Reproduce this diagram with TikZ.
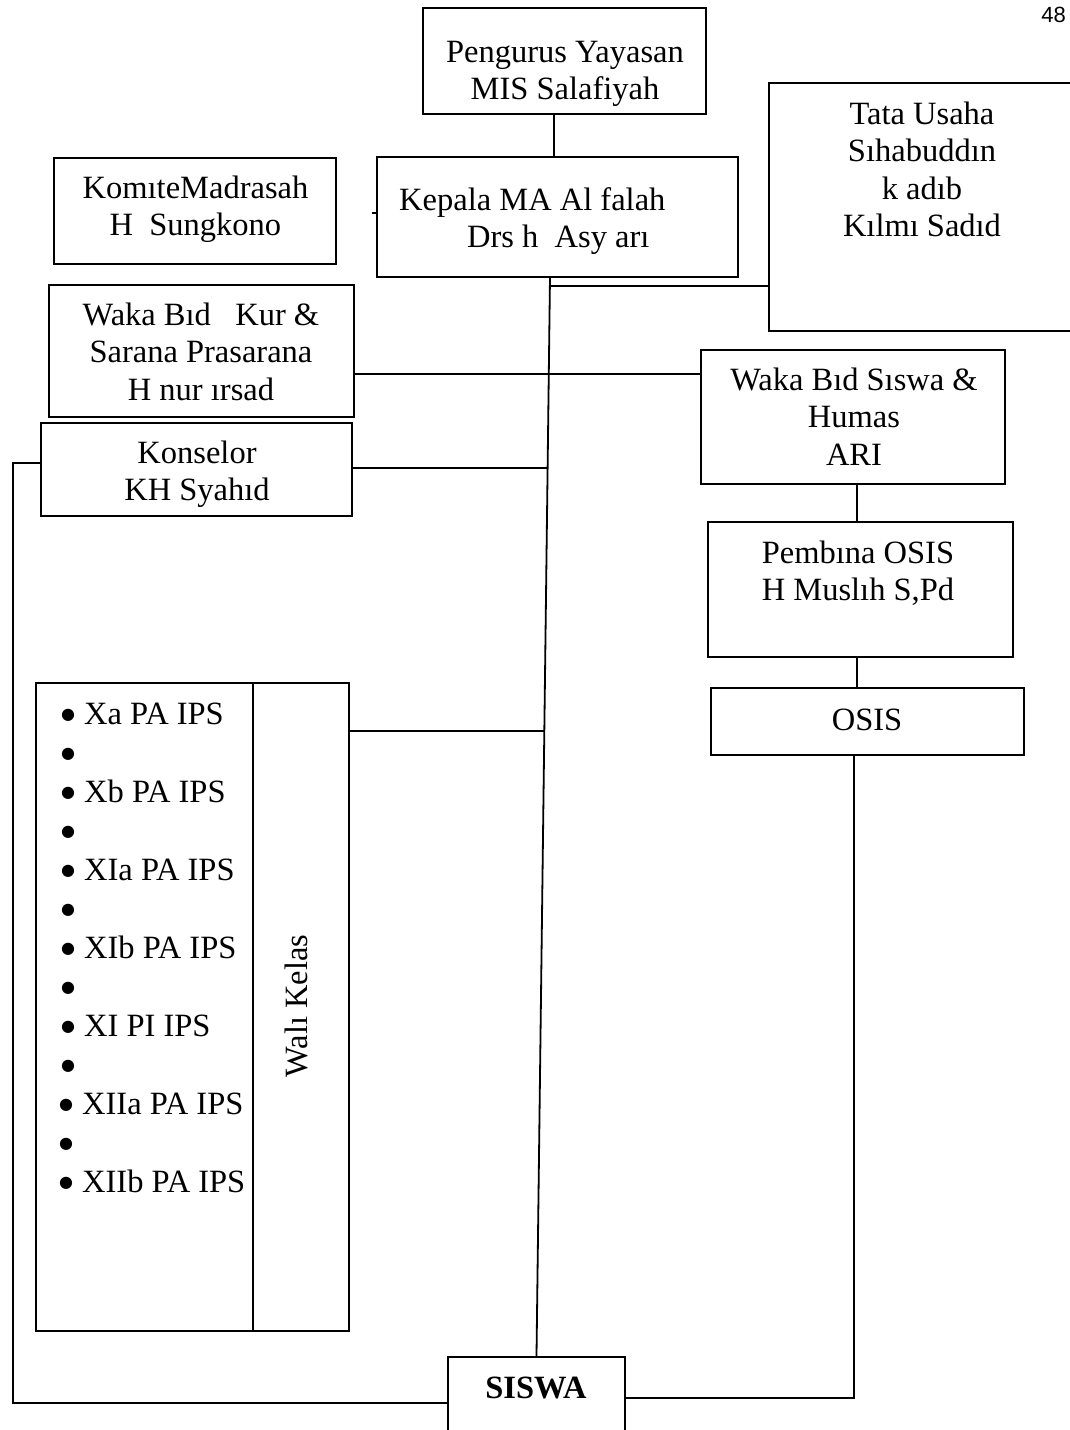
\documentclass[tikz,border=0pt]{standalone}
\usepackage{fontspec}
\setmainfont{Liberation Serif}
\newfontfamily\pagenumfont{Liberation Sans}
\newfontfamily\dotfont{DejaVu Sans}
\begin{document}
\begin{tikzpicture}[x=1pt,y=-1pt,
  box/.style={draw=black, line width=2.2pt, rectangle, inner sep=0pt},
  txt/.style={inner sep=0pt, align=center, anchor=north, font=\fontsize{32.5}{37.5}\selectfont},
  lft/.style={inner sep=0pt, align=left, anchor=north west, font=\fontsize{32.5}{37.5}\selectfont},
  itm/.style={inner sep=0pt, anchor=base west, font=\fontsize{32.5}{37.5}\selectfont},
  conn/.style={draw=black, line width=1.8pt}
]
\useasboundingbox (0,0) rectangle (1070,1430);
\clip (0,0) rectangle (1070,1430);

% page number
\node[inner sep=0pt, anchor=base east, font=\pagenumfont\fontsize{22}{24}\selectfont] (pg) at (1066,22) {48};

% boxes
\node[box, minimum width=283pt, minimum height=106pt] (peng) at (564.5,61) {};
\node[box, minimum width=282pt, minimum height=106pt] (komite) at (195,211) {};
\node[box, minimum width=361pt, minimum height=120pt] (kepala) at (557.5,217) {};
\node[box, minimum width=311pt, minimum height=248pt] (tata) at (924.5,207) {};
\node[box, minimum width=305pt, minimum height=132pt] (wkur) at (201.5,351) {};
\node[box, minimum width=311pt, minimum height=93pt] (kons) at (196.5,469.5) {};
\node[box, minimum width=304pt, minimum height=134pt] (wsis) at (853,417) {};
\node[box, minimum width=305pt, minimum height=135pt] (pemb) at (860.5,589.5) {};
\node[box, minimum width=313pt, minimum height=67pt] (osis) at (867.5,721.5) {};
\node[box, minimum width=313pt, minimum height=648pt] (wali) at (192.5,1007) {};
\node[box, minimum width=177pt, minimum height=78pt] (siswa) at (536.5,1396) {};

% texts
\def\sk{26.25}
\node[txt] (tpeng) at (565,62-\sk) {\strut Pengurus Yayasan\\\strut MIS Salafiyah};
\node[txt] (tkom) at (195.5,198-\sk) {\strut Kom\i teMadrasah\\\strut H\ \ Sungkono};
\node[lft] (tkep) at (399,210-\sk) {\strut Kepala MA Al falah\\\strut\hspace*{68pt}Drs h\ \ Asy ar\i};
\node[txt] (ttata) at (922,124-\sk) {\strut Tata Usaha\\\strut S\i habudd\i n\\\strut k ad\i b\\\strut K\i lm\i\ Sad\i d};
\node[txt] (twkur) at (201,325-\sk) {\strut Waka B\i d\ \ \ Kur \&\\\strut Sarana Prasarana\\\strut H nur \i rsad};
\node[txt] (tkons) at (197,463-\sk) {\strut Konselor\\\strut KH Syah\i d};
\node[txt] (twsis) at (854,390-\sk) {\strut Waka B\i d S\i swa \&\\\strut Humas\\\strut ARI};
\node[txt] (tpemb) at (858,563-\sk) {\strut Pemb\i na OSIS\\\strut H Musl\i h S,Pd};
\node[txt] (tosis) at (867,730-\sk) {\strut OSIS};
\node[txt] (tsis) at (536,1398-\sk) {\strut\bfseries SISWA};

% Wali Kelas contents
\coordinate (divT) at (253,683);
\coordinate (divB) at (253,1331);
\draw[conn, line width=2pt] (divT) -- (divB);
\node[inner sep=0pt, rotate=90, font=\fontsize{32.5}{37.5}\selectfont] (twali) at (296,1006) {Wal\i\ Kelas};
\newcommand{\bul}{\raisebox{5pt}{\dotfont\fontsize{16}{16}\selectfont ●}}
\node[itm] (i1) at (61,724) {\bul\hspace{9pt}Xa PA IPS};
\node[itm] (b1) at (61,763) {\bul};
\node[itm] (i2) at (61,802) {\bul\hspace{9pt}Xb PA IPS};
\node[itm] (b2) at (61,841) {\bul};
\node[itm] (i3) at (61,880) {\bul\hspace{9pt}XIa PA IPS};
\node[itm] (b3) at (61,919) {\bul};
\node[itm] (i4) at (61,958) {\bul\hspace{9pt}XIb PA IPS};
\node[itm] (b4) at (61,997) {\bul};
\node[itm] (i5) at (61,1036) {\bul\hspace{9pt}XI PI IPS};
\node[itm] (b5) at (61,1075) {\bul};
\node[itm] (i6) at (59,1114) {\bul\hspace{9pt}XIIa PA IPS};
\node[itm] (b6) at (59,1153) {\bul};
\node[itm] (i7) at (59,1192) {\bul\hspace{9pt}XIIb PA IPS};

% connectors
\coordinate (spA) at (554,0);
\draw[conn] (peng.south -| spA) -- (kepala.north -| spA);
\coordinate (spT) at (550,277);
\draw[conn] (spT) -- (siswa.north);
\coordinate (jTata) at (550,286);
\draw[conn] (jTata) -- (jTata -| tata.west);
\draw[conn] ([yshift=-23pt]wkur.east) -- ([yshift=-23pt]wkur.east -| wsis.west);
\coordinate (jKons) at (547.6,468);
\draw[conn] (jKons -| kons.east) -- (jKons);
\coordinate (jWali) at (544.3,731);
\draw[conn] (jWali -| wali.east) -- (jWali);
\coordinate (tick) at (372,213);
\draw[conn, line width=2.5pt] (tick) -- (tick -| kepala.west);
\coordinate (sx) at (857,0);
\draw[conn] (wsis.south -| sx) -- (pemb.north -| sx);
\draw[conn] (pemb.south -| sx) -- (osis.north -| sx);
% left loop
\coordinate (lT) at (13,463);
\coordinate (lB) at (13,1403);
\draw[conn] (lT -| kons.west) -- (lT) -- (lB) -- (lB -| siswa.west);
% right loop
\coordinate (rB) at (854,1398);
\draw[conn] (osis.south -| rB) -- (rB) -- (rB -| siswa.east);
\end{tikzpicture}
\end{document}
